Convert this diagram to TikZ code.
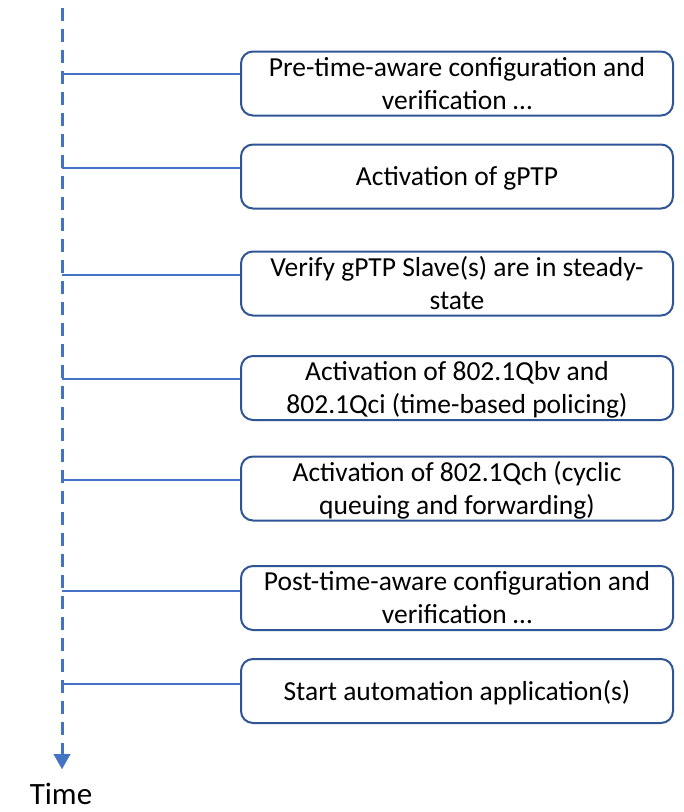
\documentclass[tikz,border=0pt]{standalone}
\usepackage{fontspec}
\setmainfont{Carlito}
\usetikzlibrary{arrows.meta}
\definecolor{axisblue}{HTML}{4472C4}
\definecolor{boxblue}{HTML}{2F5597}
\begin{document}
\begin{tikzpicture}[x=1pt,y=-1pt,
  stepbox/.style={draw=boxblue, line width=2pt, rounded corners=12pt, fill=white,
    minimum width=432pt, minimum height=64pt, inner sep=0pt, align=center,
    font=\fontsize{27.5}{33}\selectfont, text depth=0pt},
  oneline/.style={text height=18pt},
  twoline/.style={text height=51pt},
  link/.style={draw=axisblue, line width=2.2pt}]
\useasboundingbox (0,0) rectangle (684,812);

% time axis
\coordinate (axtop) at (62,8);
\coordinate (axend) at (62,769);
\draw[axisblue, line width=3pt, dash pattern=on 13pt off 8pt,
  -{Triangle[width=17pt,length=15pt,line width=0.1pt]}] (axtop) -- (axend);
\node[font=\fontsize{31}{36}\selectfont, anchor=base, inner sep=0pt] (time) at (61,804) {Time};

% steps
\node[stepbox,twoline] (b1) at (457,83.5) {Pre-time-aware configuration and\\verification …};
\node[stepbox,oneline] (b2) at (457,176.5) {Activation of gPTP};
\node[stepbox,twoline] (b3) at (457,283.5) {Verify gPTP Slave(s) are in steady-\\state};
\node[stepbox,twoline] (b4) at (457,388) {Activation of 802.1Qbv and\\802.1Qci (time-based policing)};
\node[stepbox,twoline] (b5) at (457,488.5) {Activation of 802.1Qch (cyclic\\queuing and forwarding)};
\node[stepbox,twoline] (b6) at (457,598) {Post-time-aware configuration and\\verification …};
\node[stepbox,oneline] (b7) at (457,691) {Start automation application(s)};

% links from the axis to each step
\coordinate (t1) at (62,74);
\coordinate (t2) at (62,168);
\coordinate (t3) at (62,275);
\coordinate (t4) at (62,379);
\coordinate (t5) at (62,480);
\coordinate (t6) at (62,591);
\coordinate (t7) at (62,684);
\foreach \i in {1,...,7}{
  \draw[link] (t\i) -- (b\i.west |- t\i);
}
\end{tikzpicture}
\end{document}
